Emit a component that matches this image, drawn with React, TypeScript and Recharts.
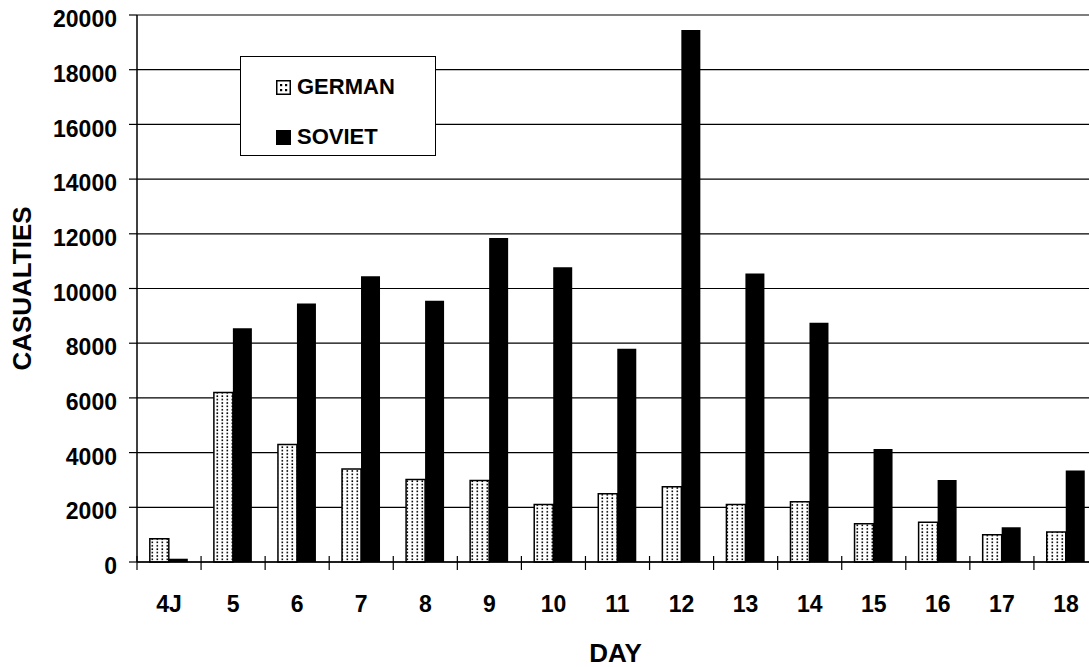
import React from "react";
import { BarChart, Bar, XAxis, YAxis, CartesianGrid, Legend } from "recharts";

// days of the battle, first one is "4J" (4 July)
const days = ["4J", "5", "6", "7", "8", "9", "10", "11", "12", "13", "14", "15", "16", "17", "18"];
const germanCasualties = [850, 6200, 4300, 3400, 3020, 2980, 2100, 2500, 2750, 2100, 2200, 1400, 1450, 1000, 1100];
const sovietCasualties = [120, 8550, 9450, 10450, 9550, 11850, 10780, 7800, 19450, 10550, 8750, 4130, 3000, 1270, 3350];
const yTicks = [0, 2000, 4000, 6000, 8000, 10000, 12000, 14000, 16000, 18000, 20000];

const data = days.map((day, i) => ({
  day,
  german: germanCasualties[i],
  soviet: sovietCasualties[i],
}));

const FONT = "'Liberation Sans', Arial, sans-serif";

// x ticks sit between categories, labels in the middle
const XTick = (props: any) => {
  const { x, y, payload } = props;
  const half = payload.offset || 0;
  return (
    <g>
      <line x1={x - half} y1={y - 6} x2={x - half} y2={y + 8} stroke="#000" strokeWidth={1.2} />
      <text x={x} y={y + 34} dy="0.71em" textAnchor="middle" fill="#000" fontSize={23} fontWeight={700} fontFamily={FONT}>
        {payload.value}
      </text>
    </g>
  );
};

const YTick = (props: any) => {
  const { x, y, payload } = props;
  return (
    <text x={x} y={y + 4} dy="0.355em" textAnchor="end" fill="#000" fontSize={23} fontWeight={700} fontFamily={FONT}>
      {payload.value}
    </text>
  );
};

const YTitle = (props: any) => {
  const vb = props.viewBox || { x: 0, y: 15, height: 547 };
  const cx = vb.x + 22;
  const cy = vb.y + vb.height / 2;
  return (
    <text
      x={cx}
      y={cy}
      transform={`rotate(-90, ${cx}, ${cy})`}
      textAnchor="middle"
      dominantBaseline="central"
      fill="#000"
      fontSize={26}
      fontWeight={700}
      fontFamily={FONT}
    >
      CASUALTIES
    </text>
  );
};

const XTitle = (props: any) => {
  const vb = props.viewBox || { x: 137, y: 562, width: 961, height: 105 };
  return (
    <text
      x={vb.x + vb.width / 2 - 2}
      y={vb.y + 91}
      textAnchor="middle"
      dominantBaseline="central"
      fill="#000"
      fontSize={26}
      fontWeight={700}
      fontFamily={FONT}
    >
      DAY
    </text>
  );
};

const LegendBox = (props: any) => {
  const { payload = [] } = props;
  return (
    <div
      style={{
        width: 196,
        height: 100,
        boxSizing: "border-box",
        border: "1.5px solid #000",
        background: "#fff",
        paddingTop: 5,
        paddingLeft: 35,
        fontFamily: FONT,
        fontWeight: 700,
        fontSize: 22,
        color: "#000",
      }}
    >
      {payload.map((entry: any, i: number) => (
        <div key={i} style={{ display: "flex", alignItems: "center", height: 50 }}>
          <svg width={15} height={15} style={{ marginRight: 6 }}>
            {entry.dataKey === "german" ? (
              <g>
                <rect x={0.75} y={0.75} width={13.5} height={13.5} fill="#fff" stroke="#000" strokeWidth={1.5} />
                <rect x={4} y={4} width={2.2} height={2.2} fill="#000" />
                <rect x={9} y={4} width={2.2} height={2.2} fill="#000" />
                <rect x={4} y={9} width={2.2} height={2.2} fill="#000" />
                <rect x={9} y={9} width={2.2} height={2.2} fill="#000" />
              </g>
            ) : (
              <rect x={0} y={0} width={15} height={15} fill="#000" />
            )}
          </svg>
          <span>{entry.value}</span>
        </div>
      ))}
    </div>
  );
};

export default function App() {
  return (
    <div
      style={{
        position: "fixed",
        left: 0,
        top: 0,
        width: 1089,
        height: 667,
        overflow: "hidden",
        background: "#fff",
        fontFamily: FONT,
      }}
    >
      <BarChart
        width={1100}
        height={667}
        data={data}
        margin={{ top: 15, right: 2, bottom: 0, left: 0 }}
        barCategoryGap="20%"
        barGap={0}
      >
        <defs>
          <pattern id="dots" patternUnits="userSpaceOnUse" width={5} height={3.4}>
            <rect width={5} height={3.4} fill="#fff" />
            <rect x={1.5} y={1} width={1.6} height={1.6} fill="#000" />
          </pattern>
        </defs>
        <CartesianGrid horizontal vertical={false} stroke="#000" strokeWidth={1.2} />
        <XAxis
          dataKey="day"
          height={105}
          tickLine={false}
          tickSize={0}
          tickMargin={0}
          axisLine={{ stroke: "#000", strokeWidth: 1.5 }}
          tick={<XTick />}
          interval={0}
          label={<XTitle />}
        />
        <YAxis
          width={137}
          domain={[0, 20000]}
          ticks={yTicks}
          interval={0}
          tickSize={8}
          tickMargin={12}
          axisLine={{ stroke: "#000", strokeWidth: 1.5 }}
          tickLine={{ stroke: "#000", strokeWidth: 1.2 }}
          tick={<YTick />}
          label={<YTitle />}
        />
        <Legend
          layout="vertical"
          align="center"
          verticalAlign="middle"
          content={<LegendBox />}
          wrapperStyle={{ left: 240, top: 56, width: 196, height: 100 }}
        />
        <Bar dataKey="german" name="GERMAN" fill="url(#dots)" stroke="#000" strokeWidth={1.5} isAnimationActive={false} />
        <Bar dataKey="soviet" name="SOVIET" fill="#000" isAnimationActive={false} />
      </BarChart>
    </div>
  );
}
